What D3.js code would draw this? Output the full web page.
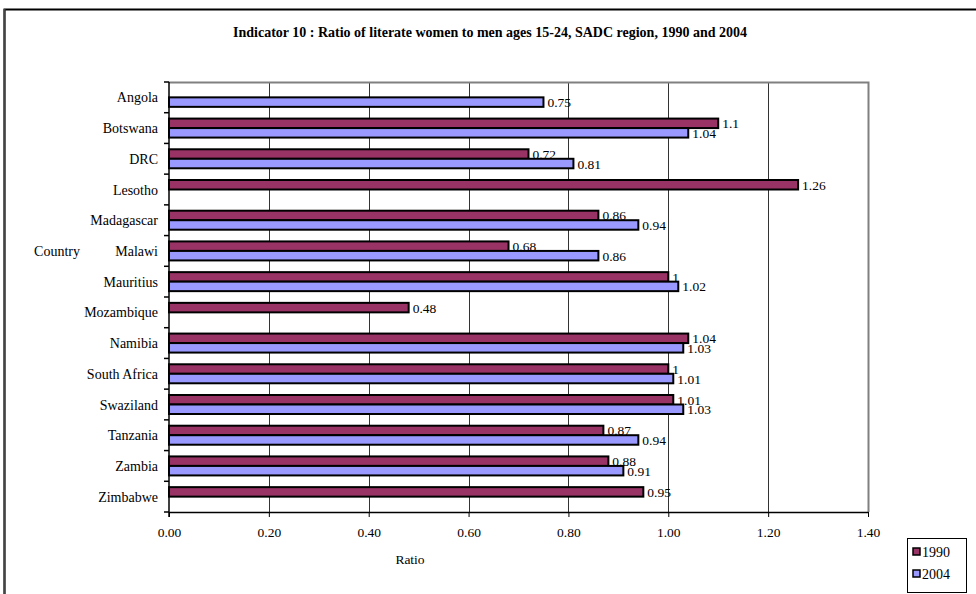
<!DOCTYPE html>
<html>
<head>
<meta charset="utf-8">
<script src="https://cdn.jsdelivr.net/npm/d3@7"></script>
<style>
  html, body { margin: 0; padding: 0; background: #fff; }
  svg { display: block; font-family: "Liberation Serif", "Times New Roman", serif; }
</style>
</head>
<body>
<svg id="chart" width="976" height="594"></svg>
<script>
// Literacy ratio (women to men, ages 15-24) per SADC country
const countries = ["Angola", "Botswana", "DRC", "Lesotho", "Madagascar", "Malawi", "Mauritius",
  "Mozambique", "Namibia", "South Africa", "Swaziland", "Tanzania", "Zambia", "Zimbabwe"];
const values1990 = [null, 1.1, 0.72, 1.26, 0.86, 0.68, 1, 0.48, 1.04, 1, 1.01, 0.87, 0.88, 0.95];
const values2004 = [0.75, 1.04, 0.81, null, 0.94, 0.86, 1.02, null, 1.03, 1.01, 1.03, 0.94, 0.91, null];
const seriesNames = ["1990", "2004"];
const seriesColors = ["#993366", "#9999FF"];
const xTicks = [0, 0.2, 0.4, 0.6, 0.8, 1.0, 1.2, 1.4];

const svg = d3.select("#chart");

// outer chart frame
svg.append("rect").attr("x", 4.5).attr("y", 9.5).attr("width", 1000).attr("height", 700)
  .attr("fill", "none").attr("stroke", "#000").attr("stroke-width", 2);
svg.append("line").attr("x1", 4.5).attr("x2", 4.5).attr("y1", 9).attr("y2", 594)
  .attr("stroke", "#444").attr("stroke-width", 2);

const plot = { left: 169, right: 868, top: 82, bottom: 512 };

const x = d3.scaleLinear().domain([0, 1.4]).range([plot.left, plot.right]);
const y = d3.scaleBand().domain(countries).range([plot.top, plot.bottom]).paddingInner(0).paddingOuter(0);
const barH = 9.5;
const yOff = d3.scaleBand().domain(seriesNames)
  .range([y.bandwidth() / 2 - barH, y.bandwidth() / 2 + barH]);

// title
svg.append("text").attr("x", 490).attr("y", 37).attr("text-anchor", "middle")
  .attr("font-size", 14).attr("font-weight", "bold").text("Indicator 10 : Ratio of literate women to men ages 15-24, SADC region, 1990 and 2004");

// vertical gridlines
svg.append("g").selectAll("line").data(xTicks.slice(1, -1)).join("line")
  .attr("x1", d => Math.round(x(d)) + 0.5).attr("x2", d => Math.round(x(d)) + 0.5)
  .attr("y1", plot.top).attr("y2", plot.bottom)
  .attr("stroke", "#333").attr("stroke-width", 1);

// plot area border (top and right)
svg.append("path")
  .attr("d", `M${plot.left},${plot.top + 0.5}H${plot.right + 0.5}V${plot.bottom}`)
  .attr("fill", "none").attr("stroke", "#808080").attr("stroke-width", 2);

// bars
const rows = countries.map((c, i) => ({ c, v: [values1990[i], values2004[i]] }));
const bars = [];
rows.forEach(r => r.v.forEach((v, k) => { if (v != null) bars.push({ c: r.c, s: seriesNames[k], k, v }); }));

svg.append("g").selectAll("rect").data(bars).join("rect")
  .attr("x", x(0))
  .attr("y", d => y(d.c) + yOff(d.s))
  .attr("width", d => x(d.v) - x(0))
  .attr("height", barH)
  .attr("fill", d => seriesColors[d.k])
  .attr("stroke", "#000").attr("stroke-width", 2);

// value labels
svg.append("g").selectAll("text").data(bars).join("text")
  .attr("x", d => x(d.v) + 4)
  .attr("y", d => y(d.c) + yOff(d.s) + barH / 2 + 5)
  .attr("font-size", 13.5)
  .text(d => String(d.v));

// x axis
const xAxis = d3.axisBottom(x).tickValues(xTicks).tickFormat(d3.format(".2f")).tickSize(5).tickSizeOuter(0);
const gx = svg.append("g").attr("transform", `translate(0,${plot.bottom})`).call(xAxis);
gx.select(".domain").attr("stroke", "#000").attr("stroke-width", 1.5);
gx.selectAll(".tick line").attr("stroke", "#000");
gx.selectAll(".tick text").attr("font-family", "Liberation Serif, serif").attr("font-size", 13.5)
  .attr("fill", "#000").attr("dy", "0.71em").attr("y", 15);

// y axis with category separator ticks
svg.append("line").attr("x1", plot.left).attr("x2", plot.left).attr("y1", plot.top).attr("y2", plot.bottom + 5)
  .attr("stroke", "#000").attr("stroke-width", 1.5);
const sepYs = countries.map(c => y(c)).concat([plot.bottom]);
svg.append("g").selectAll("line").data(sepYs).join("line")
  .attr("x1", plot.left - 5).attr("x2", plot.left).attr("y1", d => d).attr("y2", d => d)
  .attr("stroke", "#000").attr("stroke-width", 1.5);
svg.append("g").selectAll("text").data(countries).join("text")
  .attr("x", 158).attr("y", d => y(d) + y.bandwidth() / 2 + 5)
  .attr("text-anchor", "end").attr("font-size", 14).text(d => d);

// axis titles
svg.append("text").attr("x", 57).attr("y", 256).attr("text-anchor", "middle").attr("font-size", 14).text("Country");
svg.append("text").attr("x", 410).attr("y", 564).attr("text-anchor", "middle").attr("font-size", 13.5).text("Ratio");

// legend
const lg = svg.append("g");
lg.append("rect").attr("x", 907.5).attr("y", 538.5).attr("width", 59).attr("height", 54)
  .attr("fill", "#fff").attr("stroke", "#000").attr("stroke-width", 1);
seriesNames.forEach((s, k) => {
  const cy = 552 + k * 22;
  lg.append("rect").attr("x", 913).attr("y", cy - 4).attr("width", 7).attr("height", 7)
    .attr("fill", seriesColors[k]).attr("stroke", "#000").attr("stroke-width", 1.5);
  lg.append("text").attr("x", 922).attr("y", cy + 5).attr("font-size", 14).text(s);
});
</script>
</body>
</html>
